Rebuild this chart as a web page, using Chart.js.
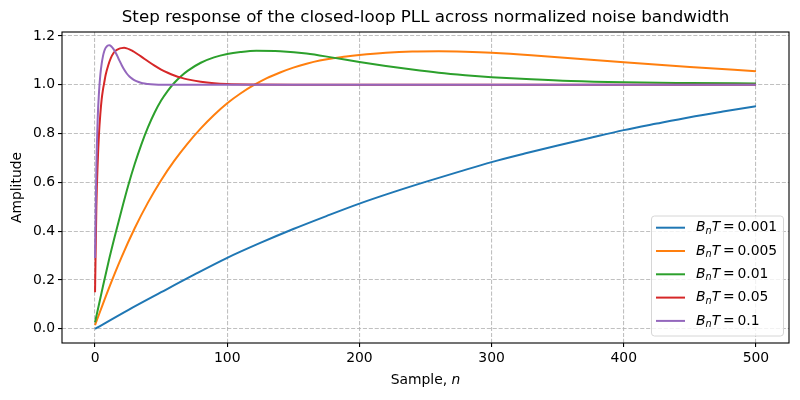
<!DOCTYPE html>
<html>
<head>
  <meta charset="utf-8">
  <title>PLL step response</title>
  <script src="https://cdn.jsdelivr.net/npm/chart.js"></script>
  <style>
    html, body { margin: 0; padding: 0; background: #fff; }
    #wrap { width: 800px; height: 400px; }
  </style>
</head>
<body>
<div id="wrap">
  <canvas id="pll" width="800" height="400"></canvas>
</div>

<script>
// values (sample n, amplitude)
const labels = ['0.001', '0.005', '0.01', '0.05', '0.1'];
const colors = ['#1f77b4', '#ff7f0e', '#2ca02c', '#d62728', '#9467bd'];

const nBlue = [0, 25, 50, 75, 100, 125, 150, 175, 200, 225, 250, 275, 300, 325, 350, 375, 400, 425, 450, 475, 500];
const yBlue = [0, 0.077, 0.150, 0.222, 0.291, 0.352, 0.409, 0.462, 0.513, 0.559, 0.602, 0.643, 0.683, 0.718, 0.751, 0.783, 0.814, 0.841, 0.867, 0.890, 0.912];

const nOrange = [0, 10, 20, 30, 40, 50, 60, 70, 80, 90, 100, 110, 120, 130, 140, 150, 160, 170, 180, 190, 200, 220, 240, 260, 280, 300, 330, 360, 400, 450, 500];
const yOrange = [0.015, 0.160, 0.293, 0.412, 0.517, 0.609, 0.689, 0.759, 0.821, 0.876, 0.924, 0.964, 0.998, 1.027, 1.050, 1.070, 1.086, 1.099, 1.108, 1.116, 1.122, 1.131, 1.136, 1.137, 1.135, 1.131, 1.121, 1.108, 1.092, 1.073, 1.055];

const nGreen = [0, 5, 10, 15, 20, 25, 30, 35, 40, 45, 50, 55, 60, 65, 70, 80, 90, 100, 110, 122, 140, 160, 180, 200, 220, 240, 260, 280, 300, 330, 360, 400, 450, 500];
const yGreen = [0.027, 0.150, 0.270, 0.380, 0.485, 0.585, 0.675, 0.755, 0.825, 0.885, 0.935, 0.975, 1.008, 1.035, 1.057, 1.090, 1.112, 1.126, 1.134, 1.139, 1.137, 1.128, 1.111, 1.093, 1.077, 1.062, 1.049, 1.039, 1.031, 1.022, 1.015, 1.010, 1.007, 1.005];

const nRed = [0, 1, 2, 3, 4, 5, 6, 7, 8, 10, 12, 14, 16, 18, 20, 22, 24, 26, 28, 30, 35, 40, 45, 50, 55, 60, 65, 70, 80, 90, 100, 120, 150, 200, 300, 400, 500];
const yRed = [0.15, 0.50, 0.68, 0.80, 0.88, 0.94, 0.98, 1.01, 1.04, 1.08, 1.11, 1.13, 1.141, 1.147, 1.150, 1.151, 1.149, 1.145, 1.140, 1.133, 1.115, 1.096, 1.078, 1.062, 1.049, 1.038, 1.029, 1.022, 1.012, 1.006, 1.003, 1.001, 1.0, 1.0, 1.0, 1.0, 1.0];

const nPurple = [0, 1, 2, 3, 4, 5, 6, 7, 8, 9, 10, 11, 12, 13, 14, 15, 16, 17, 18, 19, 20, 22, 24, 26, 28, 30, 33, 36, 40, 45, 50, 60, 100, 200, 300, 400, 500];
const yPurple = [0.29, 0.66, 0.86, 0.97, 1.04, 1.085, 1.117, 1.138, 1.151, 1.158, 1.161, 1.162, 1.159, 1.153, 1.146, 1.137, 1.127, 1.116, 1.104, 1.093, 1.082, 1.062, 1.046, 1.034, 1.025, 1.018, 1.011, 1.006, 1.003, 1.001, 1.0, 1.0, 1.0, 1.0, 1.0, 1.0, 1.0];

const xTicks = [0, 100, 200, 300, 400, 500];
const yTicks = [0, 0.2, 0.4, 0.6, 0.8, 1.0, 1.2];

const FONT = '"DejaVu Sans", sans-serif';
const series = [[nBlue, yBlue], [nOrange, yOrange], [nGreen, yGreen], [nRed, yRed], [nPurple, yPurple]];

function toPoints(xs, ys) {
  return xs.map((x, i) => ({ x: x, y: ys[i] }));
}

const datasets = series.map((s, i) => ({
  label: 'BnT = ' + labels[i],
  data: toPoints(s[0], s[1]),
  borderColor: colors[i],
  backgroundColor: colors[i],
  borderWidth: 2,
  pointRadius: 0,
  fill: false,
  cubicInterpolationMode: 'monotone',
  order: series.length - i   // later series on top, like matplotlib
}));

// title, axis labels, spines and legend drawn matplotlib-style
const mplDecor = {
  id: 'mplDecor',
  afterDraw(chart) {
    const ctx = chart.ctx;
    const a = chart.chartArea;
    const cx = (a.left + a.right) / 2;
    ctx.save();

    ctx.strokeStyle = '#000';
    ctx.lineWidth = 1.1;
    ctx.strokeRect(a.left, a.top, a.right - a.left, a.bottom - a.top);

    ctx.fillStyle = '#000';
    ctx.textBaseline = 'middle';
    ctx.textAlign = 'center';
    ctx.font = '16.7px ' + FONT;
    ctx.fillText('Step response of the closed-loop PLL across normalized noise bandwidth', cx, 18);

    // x label: "Sample, n" with italic n
    ctx.font = '13.9px ' + FONT;
    const s1 = 'Sample, ';
    const w1 = ctx.measureText(s1).width;
    ctx.font = 'italic 13.9px ' + FONT;
    const w2 = ctx.measureText('n').width;
    let x0 = cx - (w1 + w2) / 2;
    ctx.textAlign = 'left';
    ctx.font = '13.9px ' + FONT;
    ctx.fillText(s1, x0, 380);
    ctx.font = 'italic 13.9px ' + FONT;
    ctx.fillText('n', x0 + w1, 380);

    // y label
    ctx.save();
    ctx.translate(17, (a.top + a.bottom) / 2);
    ctx.rotate(-Math.PI / 2);
    ctx.textAlign = 'center';
    ctx.font = '13.9px ' + FONT;
    ctx.fillText('Amplitude', 0, 0);
    ctx.restore();

    // legend, lower right
    const bx = 651.5, by = 216, bw = 132, bh = 120;
    ctx.beginPath();
    ctx.roundRect(bx, by, bw, bh, 3);
    ctx.fillStyle = 'rgba(255,255,255,0.8)';
    ctx.fill();
    ctx.strokeStyle = '#d6d6d6';
    ctx.lineWidth = 1;
    ctx.stroke();

    labels.forEach((lab, i) => {
      const y = 227.7 + i * 23.3;
      ctx.strokeStyle = colors[i];
      ctx.lineWidth = 2;
      ctx.beginPath();
      ctx.moveTo(656, y);
      ctx.lineTo(685, y);
      ctx.stroke();

      ctx.fillStyle = '#000';
      ctx.textAlign = 'left';
      let x = 696;
      ctx.font = 'italic 13.9px ' + FONT;
      ctx.fillText('B', x, y);
      x += ctx.measureText('B').width;
      ctx.font = 'italic 9.7px ' + FONT;
      ctx.fillText('n', x, y + 3.5);
      x += ctx.measureText('n').width;
      ctx.font = 'italic 13.9px ' + FONT;
      ctx.fillText('T', x, y);
      x += ctx.measureText('T').width + 2.8;
      ctx.font = '13.9px ' + FONT;
      ctx.fillText('=', x, y);
      x += ctx.measureText('=').width + 2.8;
      ctx.fillText(lab, x, y);
    });

    ctx.restore();
  }
};

const gridColor = 'rgba(176,176,176,0.8)';

new Chart(document.getElementById('pll'), {
  type: 'line',
  data: { datasets: datasets },
  options: {
    responsive: false,
    animation: false,
    layout: { padding: { top: 32, right: 11, left: 0, bottom: 0 } },
    plugins: {
      legend: { display: false },
      title: { display: false },
      tooltip: { enabled: false }
    },
    scales: {
      x: {
        type: 'linear',
        min: -25,
        max: 525,
        afterFit: (scale) => { scale.height = 57; },
        afterBuildTicks: (scale) => { scale.ticks = xTicks.map(v => ({ value: v })); },
        ticks: {
          stepSize: 100,
          includeBounds: false,
          color: '#000',
          font: { family: FONT, size: 13.9 },
          padding: 3,
          maxRotation: 0,
          callback: (v) => String(v)
        },
        grid: {
          color: gridColor,
          lineWidth: 1.1,
          tickLength: 4,
          tickColor: '#000',
          tickWidth: 1.1,
          tickBorderDash: []
        },
        border: { display: false, dash: [4.1, 1.8] }
      },
      y: {
        min: -0.058,
        max: 1.216,
        afterFit: (scale) => { scale.width = 62; },
        afterBuildTicks: (scale) => { scale.ticks = yTicks.map(v => ({ value: v })); },
        ticks: {
          stepSize: 0.2,
          includeBounds: false,
          color: '#000',
          font: { family: FONT, size: 13.9 },
          padding: 3,
          callback: (v) => Number(v).toFixed(1)
        },
        grid: {
          color: gridColor,
          lineWidth: 1.1,
          tickLength: 4,
          tickColor: '#000',
          tickWidth: 1.1,
          tickBorderDash: []
        },
        border: { display: false, dash: [4.1, 1.8] }
      }
    }
  },
  plugins: [mplDecor]
});
</script>
</body>
</html>
